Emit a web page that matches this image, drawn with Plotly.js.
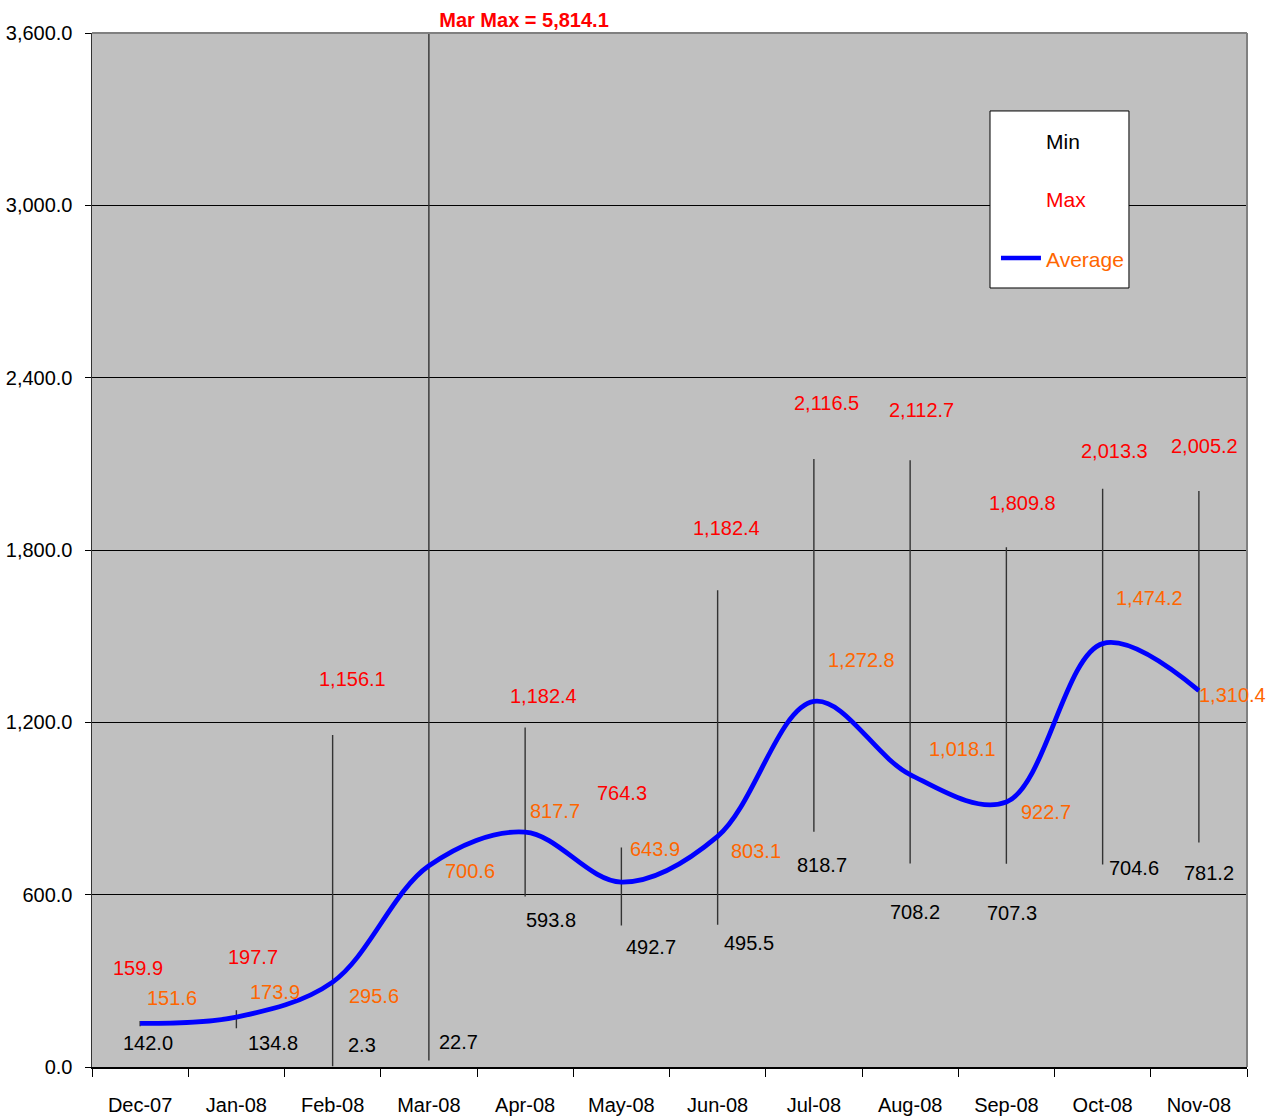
<!DOCTYPE html>
<html>
<head>
<meta charset="utf-8">
<script src="https://cdn.plot.ly/plotly-3.0.1.min.js"></script>
<style>html,body{margin:0;padding:0;background:#fff;}#chart{width:1279px;height:1120px;}</style>
</head>
<body>
<div id="chart"></div>
<script>
const months = ['Dec-07','Jan-08','Feb-08','Mar-08','Apr-08','May-08','Jun-08','Jul-08','Aug-08','Sep-08','Oct-08','Nov-08'];
const minValues = [142.0,134.8,2.3,22.7,593.8,492.7,495.5,818.7,708.2,707.3,704.6,781.2];
const maxValues = [159.9,197.7,1156.1,5814.1,1182.4,764.3,1660,2116.5,2112.7,1809.8,2013.3,2005.2];
const maxLabels = ['159.9','197.7','1,156.1','','1,182.4','764.3','1,182.4','2,116.5','2,112.7','1,809.8','2,013.3','2,005.2'];
const avgValues = [151.6,173.9,295.6,700.6,817.7,643.9,803.1,1272.8,1018.1,922.7,1474.2,1310.4];
const yTicks = [0,600,1200,1800,2400,3000,3600];
const seriesNames = ['Min','Max','Average'];

// label placement offsets in pixels [xshift, yshift]
const maxOffsets = [[-2,53],[17,53],[20,56],null,[18,31],[1,54],[9,62],[13,56],[11,50],[16,44],[12,38],[6,45]];
const avgOffsets = [[32,25],[39,25],[41,-14],[41,-5],[30,21],[34,33],[38,-15],[48,41],[52,26],[40,-10],[47,46],[34,-4]];
const minOffsets = [[8,-17],[37,-15],[29,21],[30,18],[26,-24],[30,-22],[31,-18],[8,-33],[5,-48],[6,-49],[31,-3],[10,-30]];

const FONT = '"Liberation Sans", Arial, sans-serif';
const FS = 20;
const COL_MIN = '#000000', COL_MAX = '#FF0000', COL_AVG = '#FF6600', COL_LINE = '#0000FF';
const fmt = v => v.toLocaleString('en-US',{minimumFractionDigits:1,maximumFractionDigits:1});

// high-low lines
const hlX = [], hlY = [];
months.forEach((m,i)=>{ hlX.push(m,m,null); hlY.push(minValues[i],maxValues[i],null); });

const traces = [
  {x: hlX, y: hlY, type:'scatter', mode:'lines', line:{color:'#333333', width:1.4}, showlegend:false, hoverinfo:'skip'},
  {x: months, y: minValues, type:'scatter', mode:'markers', name:seriesNames[0], marker:{size:1, opacity:0}, showlegend:false},
  {x: months, y: maxValues, type:'scatter', mode:'markers', name:seriesNames[1], marker:{size:1, opacity:0}, showlegend:false},
  {x: months, y: avgValues, type:'scatter', mode:'lines', name:seriesNames[2],
   line:{color:COL_LINE, width:4.8, shape:'spline', smoothing:1}, showlegend:false}
];

const annotations = [];
months.forEach((m,i)=>{
  if (maxOffsets[i]) annotations.push({x:m, y:maxValues[i], text:maxLabels[i], showarrow:false,
    xshift:maxOffsets[i][0], yshift:maxOffsets[i][1], font:{family:FONT,size:FS,color:COL_MAX}});
  annotations.push({x:m, y:avgValues[i], text:fmt(avgValues[i]), showarrow:false,
    xshift:avgOffsets[i][0], yshift:avgOffsets[i][1], font:{family:FONT,size:FS,color:COL_AVG}});
  annotations.push({x:m, y:minValues[i], text:fmt(minValues[i]), showarrow:false,
    xshift:minOffsets[i][0], yshift:minOffsets[i][1], font:{family:FONT,size:FS,color:COL_MIN}});
});

// custom legend (paper coordinates)
const legendCols = [COL_MIN, COL_MAX, COL_AVG];
const legendY = [0.8946, 0.8385, 0.7814];
seriesNames.forEach((n,i)=>{
  annotations.push({xref:'paper', yref:'paper', x:0.8245, y:legendY[i], xanchor:'left', yanchor:'middle',
    text:n, showarrow:false, font:{family:FONT,size:FS+1,color:legendCols[i]}});
});

const layout = {
  width:1279, height:1120,
  margin:{l:92, r:32, t:33, b:53},
  paper_bgcolor:'#FFFFFF', plot_bgcolor:'#C0C0C0',
  font:{family:FONT, size:FS, color:'#000'},
  title:{text:'<b>Mar Max = 5,814.1</b>', font:{family:FONT, size:FS, color:'#FF0000'},
         xref:'container', x:0.4097, xanchor:'center', yref:'container', y:0.982, yanchor:'middle'},
  xaxis:{type:'category', categoryorder:'array', categoryarray:months,
         range:[-0.5, months.length-0.5],
         tickson:'boundaries', ticks:'outside', ticklen:8, tickcolor:'#000', tickwidth:1,
         showline:true, linecolor:'#000', linewidth:1.5, showgrid:false,
         ticklabelstandoff:19, tickfont:{family:FONT,size:FS,color:'#000'}, fixedrange:true},
  yaxis:{range:[0,3600], tickvals:yTicks, ticktext:yTicks.map(fmt),
         ticks:'outside', ticklen:6, tickcolor:'#000', showline:true, linecolor:'#333', linewidth:1.5,
         showgrid:true, gridcolor:'#000', gridwidth:1, zeroline:false,
         ticklabelstandoff:8, tickfont:{family:FONT,size:FS,color:'#000'}, fixedrange:true},
  showlegend:false,
  shapes:[
    {type:'line', xref:'paper', yref:'paper', x0:0, x1:1, y0:1, y1:1, line:{color:'#808080', width:2}, layer:'above'},
    {type:'line', xref:'paper', yref:'paper', x0:1, x1:1, y0:0, y1:1, line:{color:'#808080', width:2}, layer:'above'},
    {type:'rect', xref:'paper', yref:'paper', x0:0.7775, x1:0.8978, y0:0.7534, y1:0.9246,
     fillcolor:'#FFFFFF', line:{color:'#000000', width:1}, layer:'above'},
    {type:'line', xref:'paper', yref:'paper', x0:0.7870, x1:0.8216, y0:0.7824, y1:0.7824,
     line:{color:COL_LINE, width:4.5}, layer:'above'}
  ],
  annotations: annotations
};

Plotly.newPlot('chart', traces, layout, {displayModeBar:false, staticPlot:true});
</script>
</body>
</html>
